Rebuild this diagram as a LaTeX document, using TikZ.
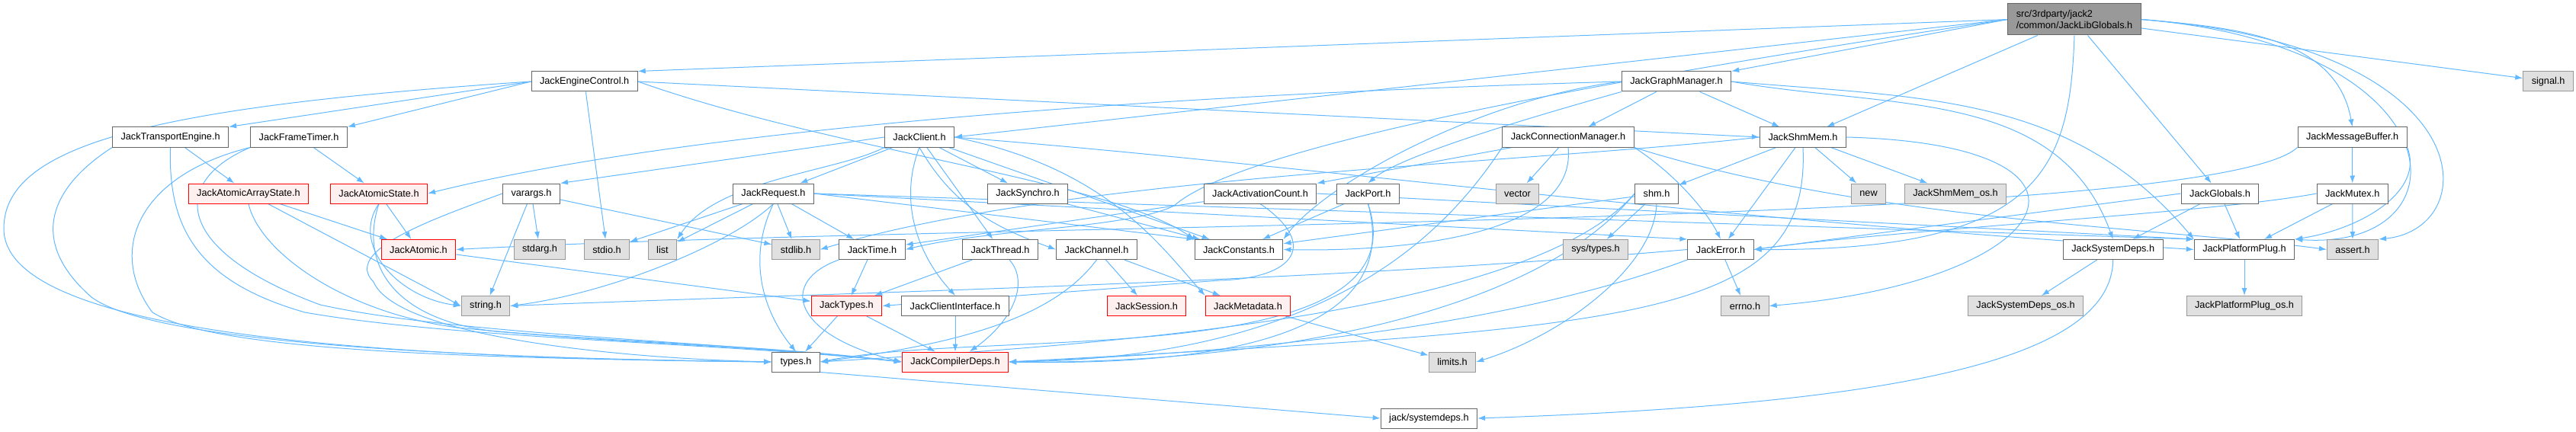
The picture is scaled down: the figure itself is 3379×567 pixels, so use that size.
\documentclass[tikz,border=0pt]{standalone}
\usepackage{fontspec}
\setmainfont{Liberation Sans}
\usepackage{tikz}
\usetikzlibrary{arrows.meta}
\definecolor{Link}{HTML}{63B8FF}
\definecolor{Frame}{HTML}{666666}
\definecolor{Ext}{HTML}{E0E0E0}
\definecolor{ExtFrame}{HTML}{999999}
\definecolor{Trunc}{HTML}{FFF0F0}
\definecolor{TruncFrame}{HTML}{FF0000}
\definecolor{RootFill}{HTML}{999999}
\pgfdeclarelayer{edges}
\pgfsetlayers{edges,main}

\begin{document}
\begin{tikzpicture}[x=1pt,y=-1pt,font=\fontsize{12.7}{14.7}\selectfont,
  >={Latex[length=10pt,width=7pt]},
  file/.style={draw=Frame,fill=white,line width=1pt,minimum height=26pt,
    inner xsep=11pt,inner ysep=0pt},
  ext/.style={file,draw=ExtFrame,fill=Ext},
  trunc/.style={file,draw=TruncFrame,fill=Trunc},
  root/.style={file,fill=RootFill,align=left,minimum height=41pt},
  dep/.style={->,Link,line width=1pt}]
  \useasboundingbox (0,0) rectangle (3379,567);

  \node[root] (r) at (2721,25.5) {src/3rdparty/jack2\\/common/JackLibGlobals.h};

  \node[file] (eng) at (766.6,107) {JackEngineControl.h};
  \node[file] (gm) at (2199,107) {JackGraphManager.h};
  \node[ext] (sig) at (3342.6,107) {signal.h};

  \node[file] (te) at (223.6,180) {JackTransportEngine.h};
  \node[file] (ft) at (392,180) {JackFrameTimer.h};
  \node[file] (cl) at (1206,180) {JackClient.h};
  \node[file] (cm) at (2057,180) {JackConnectionManager.h};
  \node[file] (shmmem) at (2365,180) {JackShmMem.h};
  \node[file] (mb) at (3085.6,180) {JackMessageBuffer.h};

  \node[trunc] (aas) at (326,254) {JackAtomicArrayState.h};
  \node[trunc] (as) at (497,254) {JackAtomicState.h};
  \node[file] (va) at (697,254) {varargs.h};
  \node[file] (req) at (1014.4,254) {JackRequest.h};
  \node[file] (syn) at (1348,254) {JackSynchro.h};
  \node[file] (ac) at (1653,254) {JackActivationCount.h};
  \node[file] (port) at (1794.5,254) {JackPort.h};
  \node[ext] (vec) at (1990.5,254) {vector};
  \node[file] (shm) at (2173,254) {shm.h};
  \node[ext] (new) at (2451,254) {new};
  \node[ext] (shmos) at (2565,254) {JackShmMem\_os.h};
  \node[file] (glob) at (2912,254) {JackGlobals.h};
  \node[file] (mutex) at (3085.7,254) {JackMutex.h};

  \node[trunc] (atom) at (549,327.5) {JackAtomic.h};
  \node[ext] (stdarg) at (708,327.5) {stdarg.h};
  \node[ext] (stdio) at (796,327.5) {stdio.h};
  \node[ext] (list) at (869,327.5) {list};
  \node[ext] (stdlib) at (1044,327.5) {stdlib.h};
  \node[file] (time) at (1144,327.5) {JackTime.h};
  \node[file] (thr) at (1312,327.5) {JackThread.h};
  \node[file] (chan) at (1438.5,327.5) {JackChannel.h};
  \node[file] (consts) at (1625,327.5) {JackConstants.h};
  \node[ext] (systypes) at (2093,327.5) {sys/types.h};
  \node[file] (err) at (2257,327.5) {JackError.h};
  \node[file] (sysdeps) at (2771.7,327.5) {JackSystemDeps.h};
  \node[file] (pp) at (2944,327.5) {JackPlatformPlug.h};
  \node[ext] (assert) at (3086,327.5) {assert.h};

  \node[ext] (string) at (637,401.5) {string.h};
  \node[trunc] (jtypes) at (1110.5,401.5) {JackTypes.h};
  \node[file] (ci) at (1253,401.5) {JackClientInterface.h};
  \node[trunc] (sess) at (1504,401.5) {JackSession.h};
  \node[trunc] (meta) at (1637,401.5) {JackMetadata.h};
  \node[ext] (errno) at (2289,401.5) {errno.h};
  \node[ext] (sysdepsos) at (2657,401.5) {JackSystemDeps\_os.h};
  \node[ext] (ppos) at (2944,401.5) {JackPlatformPlug\_os.h};

  \node[file] (types) at (1044,475) {types.h};
  \node[trunc] (cdeps) at (1253,475) {JackCompilerDeps.h};
  \node[ext] (limits) at (1905,475) {limits.h};

  \node[file] (jsd) at (1874.4,549) {jack/systemdeps.h};

  \begin{pgfonlayer}{edges}
  \foreach \a/\b in {r/sig,r/glob,r/shmmem,gm/cm,gm/shmmem,eng/stdio,te/aas,
      ft/as,aas/atom,as/atom,atom/jtypes,jtypes/types,jtypes/cdeps,cl/req,
      cl/syn,cl/thr,cl/consts,req/stdlib,req/list,req/stdio,req/time,
      va/stdarg,va/string,va/stdlib,syn/consts,thr/jtypes,chan/sess,
      chan/meta,ci/cdeps,time/jtypes,meta/limits,cm/vec,port/consts,
      shmmem/shm,shmmem/err,shmmem/new,shmmem/shmos,shm/systypes,shm/consts,
      err/errno,glob/sysdeps,glob/pp,mb/mutex,mutex/assert,mutex/pp,pp/ppos,
      sysdeps/sysdepsos,ac/time}
    \draw[dep] (\a) -- (\b);

  \draw[dep] (r.west) -- (eng.north east);
  \draw[dep] (r.west) -- (gm.north east);
  \draw[dep] (r.west) -- (cl.east);
  \draw[dep] (gm.west) .. controls (1500,125) and (900,170) .. (as.east);
  \draw[dep] (eng.west) -- (te.north east);
  \draw[dep] (eng.west) -- (ft.north east);
  \draw[dep] (eng.east) -- (shmmem.west);
  \draw[dep] (aas) -- (string.west);
  \draw[dep] (cl.west) -- (va.north east);
  \draw[dep] (req.east) -- (consts.north west);
  \draw[dep] (req.east) -- (err.north west);
  \draw[dep] (req.east) -- (pp.north west);
  \draw[dep] (cm) -- (ac.north east);
  \draw[dep] (ac.east) -- (pp.north west);
  \draw[dep] (glob.west) -- (err.east);
  \draw[dep] (types.south east) -- (jsd.west);

  \draw[dep] (r.east) to[out=-5,in=100] (mb.north);
  \draw[dep] (r.east) .. controls (3230,60) and (3240,330) .. (pp.north east);
  \draw[dep] (r.east) .. controls (3260,60) and (3260,300) .. (assert.north east);
  \draw[dep] (r.south) .. controls (2715,220) and (2680,330) .. (err.east);
  \draw[dep] (r.west) .. controls (2000,120) and (1620,200) .. (1540,270)
    .. controls (1480,300) and (1300,300) .. (time.east);

  \draw[dep] (gm.south west) .. controls (1950,170) and (1830,210) .. (port.north);
  \draw[dep] (gm.west) .. controls (1940,130) and (1740,240) .. (consts.north east);
  \draw[dep] (gm.east) to[out=-10,in=110] (sysdeps.north);
  \draw[dep] (gm.east) to[out=-5,in=130] (pp.north west);

  \draw[dep] (eng.west) .. controls (200,140) and (5,190) .. (5,300)
    .. controls (5,440) and (500,470) .. (types.west);
  \draw[dep] (eng.east) .. controls (1100,200) and (1450,235) .. (consts.north west);
  \draw[dep] (te.south west) .. controls (60,250) and (40,320) .. (120,390)
    .. controls (200,450) and (600,470) .. (types.west);
  \draw[dep] (te.south) .. controls (220,300) and (260,370) .. (400,410)
    .. controls (600,445) and (950,450) .. (cdeps.west);
  \draw[dep] (ft.south west) .. controls (180,230) and (140,330) .. (200,410)
    .. controls (280,460) and (600,470) .. (types.west);
  \draw[dep] (ft.south west) .. controls (220,240) and (230,330) .. (420,400)
    .. controls (600,440) and (950,448) .. (cdeps.west);
  \draw[dep] (aas.south) .. controls (340,330) and (450,410) .. (600,430)
    .. controls (800,450) and (1000,452) .. (cdeps.west);
  \draw[dep] (as.south) .. controls (460,320) and (520,390) .. (string.west);
  \draw[dep] (as.south) .. controls (470,350) and (520,420) .. (650,435)
    .. controls (850,452) and (1000,455) .. (cdeps.west);
  \draw[dep] (va.west) .. controls (560,290) and (450,330) .. (490,370)
    .. controls (520,440) and (800,470) .. (types.west);

  \draw[dep] (cl.south) to[out=-60,in=160] (chan.west);
  \draw[dep] (cl.south) .. controls (1180,260) and (1200,330) .. (ci.north);
  \draw[dep] (cl.east) .. controls (1450,220) and (1520,320) .. (meta.north west);
  \draw[dep] (cl.east) .. controls (1700,215) and (2200,285) .. (pp.west);
  \draw[dep] (cl.south west) .. controls (1100,225) and (940,235) .. (list.north east);

  \draw[dep] (req.south) .. controls (975,350) and (1010,420) .. (types.north);
  \draw[dep] (req.south) .. controls (960,320) and (800,385) .. (string.east);
  \draw[dep] (thr) .. controls (1350,370) and (1330,420) .. (cdeps);
  \draw[dep] (chan.south) .. controls (1380,420) and (1250,452) .. (types.east);
  \draw[dep] (time.south west) .. controls (1020,370) and (1040,440) .. (cdeps.west);

  \draw[dep] (cm.south) .. controls (2070,320) and (1800,330) .. (consts.east);
  \draw[dep] (cm.south east) .. controls (2200,230) and (2240,280) .. (err.north);
  \draw[dep] (cm.south west) .. controls (1900,300) and (1750,470) .. (cdeps.east);
  \draw[dep] (cm.south east) .. controls (2450,290) and (2850,300) .. (assert.west);
  \draw[dep] (ac.south) .. controls (1730,320) and (1700,365) .. (1600,368)
    -- (jtypes.east);

  \draw[dep] (port.south) .. controls (1870,490) and (1300,430) .. (types.east);
  \draw[dep] (port.south) .. controls (1850,470) and (1500,478) .. (cdeps.east);

  \draw[dep] (shmmem.west) .. controls (2000,215) and (1400,230) .. (stdlib.east);
  \draw[dep] (shmmem.south) .. controls (2375,420) and (2150,430) .. (cdeps.east);
  \draw[dep] (shmmem.east) .. controls (2800,190) and (2700,370) .. (errno.east);
  \draw[dep] (shm.south) .. controls (2170,350) and (2050,440) .. (limits.east);
  \draw[dep] (shm.west) .. controls (2000,420) and (1400,455) .. (types.east);
  \draw[dep] (shm.west) .. controls (2000,430) and (1600,478) .. (cdeps.east);

  \draw[dep] (err.west) .. controls (1700,372) and (1100,384) .. (string.east);
  \draw[dep] (err.south west) .. controls (2000,420) and (1700,460) .. (cdeps.east);

  \draw[dep] (mb.south west) .. controls (2900,300) and (1300,290) .. (atom.east);
  \draw[dep] (mb.south east) .. controls (3180,250) and (3100,300) .. (pp.north east);
  \draw[dep] (mutex.west) .. controls (2900,280) and (2500,300) .. (err.east);
  \draw[dep] (sysdeps.south) .. controls (2770,470) and (2500,530) .. (jsd.east);
  \end{pgfonlayer}
\end{tikzpicture}
\end{document}
